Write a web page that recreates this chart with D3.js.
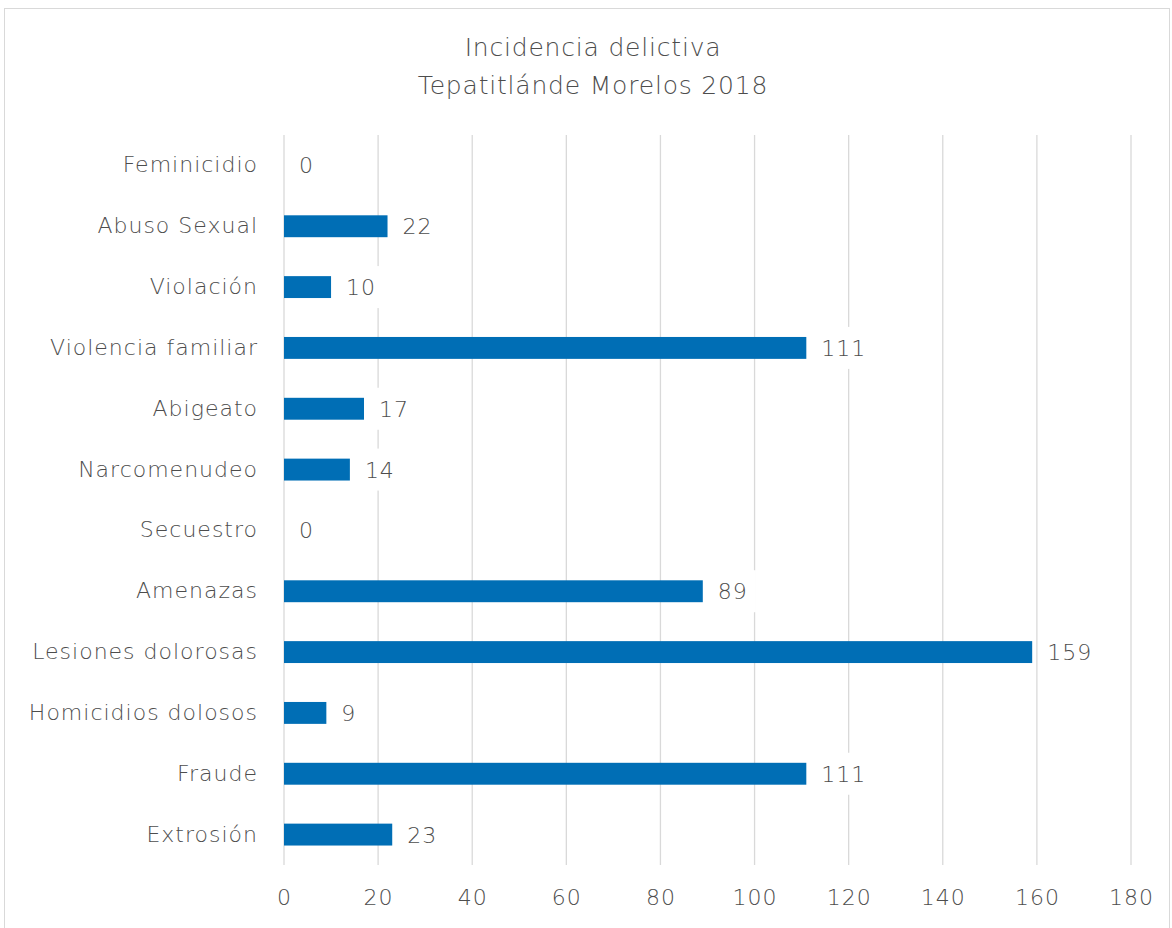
<!DOCTYPE html>
<html><head><meta charset="utf-8">
<script src="https://cdn.jsdelivr.net/npm/d3@7"></script>
<style>body{margin:0;background:#fff;} text{font-family:"DejaVu Sans", sans-serif;}</style>
</head><body>
<svg id="c" width="1172" height="928"></svg>
<script>
const titleLines = ["Incidencia delictiva", "Tepatitlánde Morelos 2018"];
const categories = ["Feminicidio","Abuso Sexual","Violación","Violencia familiar","Abigeato","Narcomenudeo","Secuestro","Amenazas","Lesiones dolorosas","Homicidios dolosos","Fraude","Extrosión"];
const values = [0,22,10,111,17,14,0,89,159,9,111,23];
const xTicks = [0,20,40,60,80,100,120,140,160,180];

const svg = d3.select("#c");
const m = {left:284, right:1131, top:135, bottom:865};
const textColor = "#4d4d4d";
const FONT = "'DejaVu Sans', sans-serif";
const FW = 200;

svg.append("rect").attr("x",4.5).attr("y",8.5).attr("width",1165).attr("height",925)
  .attr("fill","#fff").attr("stroke","#d9d9d9").attr("stroke-width",1);

const x = d3.scaleLinear().domain([0,180]).range([m.left,m.right]);
const y = d3.scaleBand().domain(categories).range([m.top,m.bottom]).paddingInner(0.64).paddingOuter(0.32);

svg.append("g").selectAll("line").data(xTicks).join("line")
  .attr("x1",d=>x(d)).attr("x2",d=>x(d)).attr("y1",m.top).attr("y2",m.bottom)
  .attr("stroke","#d9d9d9").attr("stroke-width",1.3);

const xa = svg.append("g").attr("transform",`translate(0,${m.bottom})`)
  .call(d3.axisBottom(x).tickValues(xTicks).tickSize(0).tickPadding(24));
xa.select(".domain").remove();
xa.selectAll("text").attr("font-size",22).attr("letter-spacing",1).attr("fill",textColor).style("font-family",FONT).attr("font-weight",FW);

const ya = svg.append("g").attr("transform",`translate(${m.left},0)`)
  .call(d3.axisLeft(y).tickSize(0).tickPadding(26));
ya.select(".domain").remove();
ya.selectAll("text").attr("font-size",22).attr("letter-spacing",1).attr("fill",textColor).style("font-family",FONT).attr("font-weight",FW);

svg.append("g").selectAll("rect").data(values).join("rect")
  .attr("x",x(0)).attr("y",(d,i)=>y(categories[i]))
  .attr("width",d=>x(d)-x(0)).attr("height",y.bandwidth())
  .attr("fill","#006EB5");

const lg = svg.append("g");
values.forEach((v,i)=>{
  const cy = y(categories[i]) + y.bandwidth()/2;
  const g = lg.append("g");
  const t = g.append("text").attr("x",x(v)+15).attr("y",cy).attr("dy","0.36em")
    .attr("font-size",22).attr("letter-spacing",1).attr("fill",textColor).attr("font-weight",FW).style("font-family",FONT).text(v);
  const bb = t.node().getBBox();
  g.insert("rect","text").attr("x",bb.x-8).attr("y",cy-21).attr("width",bb.width+16).attr("height",42).attr("fill","#fff");
});

svg.append("g").selectAll("text").data(titleLines).join("text")
  .attr("x",593).attr("y",(d,i)=>56+i*38).attr("text-anchor","middle")
  .attr("font-size",25).attr("letter-spacing",0.8).attr("fill",textColor).attr("font-weight",FW).style("font-family",FONT).text(d=>d);
</script>
</body></html>
